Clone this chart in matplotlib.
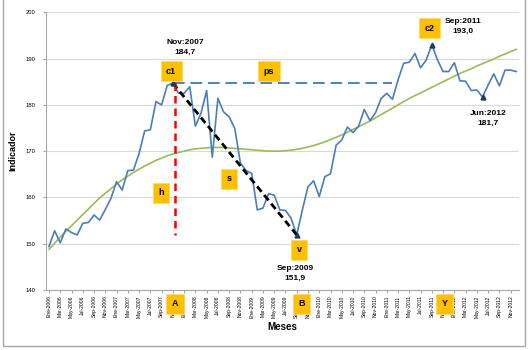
import matplotlib.pyplot as plt
from matplotlib.patches import Rectangle

# monthly series, Ene-2006 .. Dic-2012
meses = ['Ene', 'Feb', 'Mar', 'Abr', 'May', 'Jun', 'Jul', 'Ago', 'Sep', 'Oct', 'Nov', 'Dic']
anios = [2006, 2007, 2008, 2009, 2010, 2011, 2012]
etiquetas = [f'{m}-{a}' for a in anios for m in meses]

indicador = [149.4, 152.8, 150.2, 153.2, 152.4, 151.9, 154.4, 154.6, 156.2, 155.1, 157.4, 159.8,
             163.4, 161.6, 165.8, 165.9, 169.5, 174.4, 174.6, 180.7, 180.0, 184.2, 184.7, 182.5,
             182.5, 183.9, 175.4, 178.2, 183.1, 168.7, 181.4, 178.5, 177.4, 174.9, 167.4, 165.8,
             165.2, 157.3, 157.7, 160.8, 160.5, 157.3, 157.2, 155.5, 151.9, 157.3, 162.3, 163.6,
             160.2, 164.5, 165.1, 171.3, 172.4, 175.2, 174.0, 175.4, 179.0, 176.6, 178.3, 181.4,
             182.5, 181.2, 185.4, 189.0, 189.2, 191.1, 188.0, 189.7, 193.0, 189.7, 187.2, 187.2,
             189.1, 185.2, 185.1, 183.1, 183.2, 181.7, 184.3, 186.7, 184.1, 187.5, 187.5, 187.2]

tendencia = [148.8, 150.1, 151.4, 152.7, 153.9, 155.1, 156.3, 157.5, 158.7, 159.9, 160.9, 161.9,
             162.9, 163.8, 164.6, 165.4, 166.1, 166.8, 167.4, 168.0, 168.5, 169.0, 169.4, 169.7,
             170.0, 170.3, 170.5, 170.6, 170.7, 170.8, 170.8, 170.8, 170.7, 170.6, 170.5, 170.4,
             170.3, 170.2, 170.1, 170.0, 170.0, 170.0, 170.1, 170.2, 170.4, 170.6, 170.9, 171.2,
             171.6, 172.0, 172.5, 173.0, 173.5, 174.1, 174.7, 175.3, 175.9, 176.5, 177.2, 177.9,
             178.6, 179.3, 180.0, 180.7, 181.4, 182.0, 182.6, 183.2, 183.8, 184.4, 185.0, 185.6,
             186.2, 186.8, 187.3, 187.8, 188.4, 188.9, 189.4, 189.9, 190.5, 191.0, 191.5, 192.0]

# turning points (month index, value)
puntos_x = [22, 44, 68, 77]
puntos_y = [184.7, 151.9, 193.0, 181.7]
ps_x = [22, 61]
ps_y = [184.7, 184.7]

x = list(range(len(indicador)))

plt.rcParams['font.family'] = ['Liberation Sans', 'DejaVu Sans']

fig = plt.figure(figsize=(5.29, 3.5), dpi=100)
fig.patches.append(Rectangle((3 / 529, 4 / 350), 522 / 529, 1.0, transform=fig.transFigure,
                             fill=False, edgecolor='#a6a6a6', linewidth=1.0))
ax = fig.add_axes([0.0873, 0.1714, 0.894, 0.7935])

ax.plot(x, indicador, color='#4a7ebb', linewidth=1.2, zorder=3)
ax.plot(x, tendencia, color='#9bbb59', linewidth=1.2, zorder=2)
ax.plot(ps_x, ps_y, color='#4f81bd', linewidth=1.4, dashes=(6, 3), zorder=3)
ax.plot([puntos_x[0], puntos_x[1]], [puntos_y[0], puntos_y[1]], color='black',
        linewidth=2, dashes=(2.5, 1.5), zorder=4)
ax.plot([22.4, 22.4], [puntos_y[0], puntos_y[1]], color='#ff0000', linewidth=1.8,
        dashes=(3, 2), zorder=4)
ax.plot(puntos_x, puntos_y, linestyle='none', marker='^', markersize=3.5,
        color='#1f3864', zorder=5)

ax.set_xlim(-0.5, 83.5)
ax.set_ylim(140, 200)
ax.set_yticks(range(140, 201, 10))
ax.set_xticks(x[::2])
ax.set_xticklabels(etiquetas[::2], rotation=90, fontsize=3.6)
ax.tick_params(axis='y', labelsize=4.2, length=2.5, color='#a6a6a6', pad=5)
ax.tick_params(axis='x', length=2, color='#a6a6a6', pad=2)
ax.grid(axis='y', color='#d9d9d9', linewidth=0.8)
ax.set_axisbelow(True)
for s in ['top', 'right']:
    ax.spines[s].set_visible(False)
for s in ['left', 'bottom']:
    ax.spines[s].set_color('#a6a6a6')

ax.set_ylabel('Indicador', fontsize=6.5, fontweight='bold', labelpad=6)
ax.set_xlabel('Meses', fontsize=7, fontweight='bold', labelpad=3)

caja = dict(boxstyle='square,pad=0.6', facecolor='#ffc000', edgecolor='#ffd966', linewidth=0.6)
cajas = [('c1', 21.7, 187.3), ('ps', 39.1, 187.3), ('c2', 67.6, 196.6),
         ('h', 19.9, 161.0), ('s', 32.0, 164.0), ('v', 44.4, 148.7)]
for t, cx, cy in cajas:
    ax.text(cx, cy, t, fontsize=6.5, fontweight='bold', ha='center', va='center',
            bbox=caja, zorder=6)
for t, cx in [('A', 22.4), ('B', 44.9), ('Y', 70.3)]:
    ax.text(cx, -0.05, t, fontsize=6.5, fontweight='bold', ha='center', va='center',
            bbox=caja, zorder=6, transform=ax.get_xaxis_transform(), clip_on=False)

notas = [('Nov:2007\n184,7', 24.2, 192.4), ('Sep:2009\n151,9', 43.7, 143.6),
         ('Sep:2011\n193,0', 73.5, 196.9), ('Jun:2012\n181,7', 78.0, 177.1)]
for t, nx, ny in notas:
    ax.text(nx, ny, t, fontsize=6, fontweight='bold', ha='center', va='center',
            linespacing=1.6, zorder=6)

fig.savefig('out.png', dpi=100)
